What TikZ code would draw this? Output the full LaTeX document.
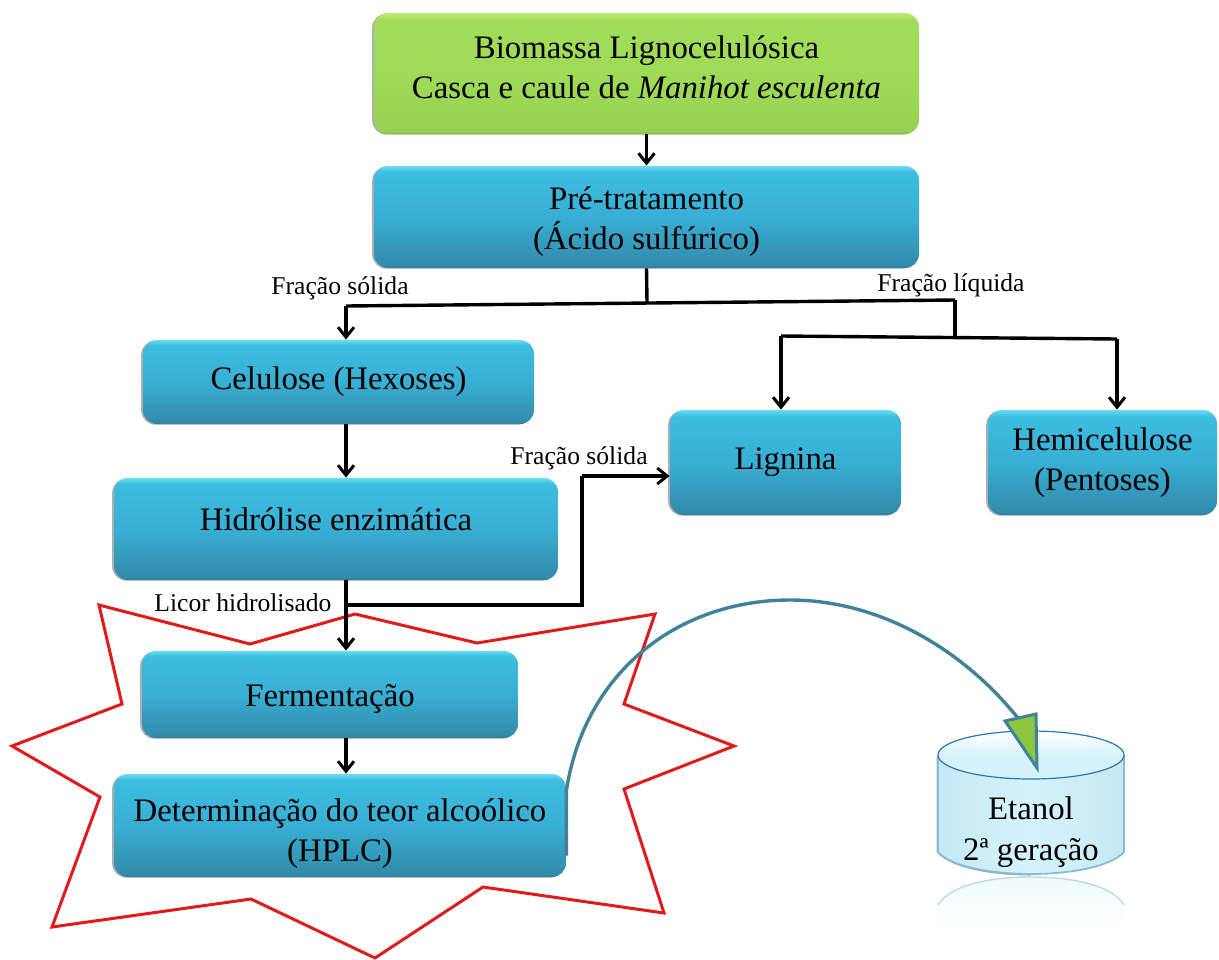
\documentclass[tikz,border=0pt]{standalone}
\usepackage{fontspec}
\setmainfont{Liberation Serif}
\usetikzlibrary{arrows.meta,shadows,calc}
\definecolor{bA}{HTML}{2E7F9B}\definecolor{bB}{HTML}{338BAB}\definecolor{bC}{HTML}{38AFD4}\definecolor{bD}{HTML}{3DBDE1}\definecolor{bE}{HTML}{66DDF5}
\definecolor{gA}{HTML}{88BC4A}\definecolor{gB}{HTML}{98D153}\definecolor{gC}{HTML}{A0DB57}\definecolor{gD}{HTML}{A2DD59}\definecolor{gE}{HTML}{BDEB78}
\definecolor{teal1}{HTML}{3F8299}\definecolor{tipgreen}{HTML}{8CC63F}\definecolor{star}{HTML}{E01B1B}
\definecolor{cylfill}{HTML}{D6F3FB}\definecolor{cylline}{HTML}{2C76B8}\definecolor{cyledge}{HTML}{86BDD6}
\pgfdeclareverticalshading{bluebox}{100bp}{color(0bp)=(bA); color(25bp)=(bA); color(26.5bp)=(bB); color(50bp)=(bC); color(72bp)=(bD); color(75bp)=(bE); color(100bp)=(bE)}
\pgfdeclareverticalshading{greenbox}{100bp}{color(0bp)=(gA); color(25bp)=(gA); color(26.5bp)=(gB); color(50bp)=(gC); color(72bp)=(gD); color(75bp)=(gE); color(100bp)=(gE)}
\newcommand\tdown[1]{\rule{0pt}{\dimexpr 12pt+2\dimexpr #1\relax\relax}}
\newcommand\tup[1]{\rule[\dimexpr -4.5pt-2\dimexpr #1\relax\relax]{0pt}{0pt}}
\tikzset{
  x=0.5pt,y=-0.5pt,
  box/.style={rectangle,rounded corners=7pt,align=center,inner sep=0pt,font=\fontsize{16.4}{20}\selectfont,text=black,
    drop shadow={shadow xshift=-0.9pt,shadow yshift=-0.3pt,opacity=.45,fill=black!70}},
  bluebox/.style={box,shading=bluebox},
  greenbox/.style={box,shading=greenbox},
  lbl/.style={inner sep=0pt,font=\fontsize{12.8}{14}\selectfont,text=black},
  conn/.style={line width=1.7pt,black,line join=miter},
  arr/.style={conn,-{Straight Barb[length=5pt,width=8pt,line width=1.5pt]}},
}
\begin{document}
\begin{tikzpicture}
\useasboundingbox (0,0) rectangle (1219,959);
% star
\draw[star,line width=1.5pt,line join=miter,fill=none]
 (99,605)--(250,644)--(355,614)--(477,643)--(655,614)--(624,704)--(734,746)--(624,789)--(664,913)--(483,887)--(375,958)--(251,899)--(52,927)--(100,797)--(12,746)--(122,704)--cycle;
% boxes
\node[greenbox,minimum width=272.5pt,minimum height=60.5pt] (bio) at (646.5,73.5) {Biomassa Lignocelulósica\\Casca e caule de \textit{Manihot esculenta}\tup{1.2pt}};
\node[bluebox,minimum width=272.5pt,minimum height=51pt] (pre) at (646.5,217) {\tdown{2.2pt}Pré-tratamento\\(Ácido sulfúrico)};
\node[bluebox,minimum width=195.5pt,minimum height=42pt] (cel) at (338.5,382) {Celulose (Hexoses)};
\node[bluebox,minimum width=222pt,minimum height=51pt] (hid) at (336,529) {Hidrólise enzimática\tup{2.5pt}};
\node[bluebox,minimum width=188pt,minimum height=43.5pt] (fer) at (330,694.5) {\tdown{1.5pt}Fermentação};
\node[bluebox,minimum width=226pt,minimum height=51.5pt] (det) at (340,825.5) {\tdown{3.5pt}Determinação do teor alcoólico\\(HPLC)};
\node[bluebox,minimum width=115.5pt,minimum height=52.5pt] (lig) at (785.5,462.5) {Lignina};
\node[bluebox,minimum width=114.5pt,minimum height=52.5pt] (hem) at (1102.5,462.5) {Hemicelulose\\(Pentoses)};
% labels
\node[lbl] (l1) at (340,288) {Fração sólida};
\node[lbl] (l2) at (951,285) {Fração líquida};
\node[lbl] (l3) at (579,458) {Fração sólida};
\node[lbl] (l4) at (243,603) {Licor hidrolisado};
% junctions
\coordinate (ja) at (647,302);
\coordinate (jb) at (346,306);
\coordinate (jc) at (955,300);
\coordinate (jd) at (955,336);
\coordinate (je) at (781,336);
\coordinate (jf) at (1117,339);
\coordinate (jg) at (346,605);
\coordinate (jh) at (582,605);
\coordinate (ji) at (582,476);
% connectors
\draw[arr] (bio.south) -- (pre.north);
\draw[conn] (pre.south) -- (ja);
\draw[conn] (jb) -- (jc);
\draw[arr] (jb) -- (jb |- cel.north);
\draw[conn] (jc) -- (jd);
\draw[conn] (jf) -- (je);
\draw[arr] (je) -- (je |- lig.north);
\draw[arr] (jf) -- (jf |- hem.north);
\draw[arr] (jb |- cel.south) -- (jb |- hid.north);
\draw[arr] (jb |- hid.south) -- (jb |- fer.north);
\draw[conn] (jg) -- (jh) -- (ji);
\draw[arr] (ji) -- (ji -| lig.west);
\draw[arr] (jb |- fer.south) -- (jb |- det.north);
% reflection
\shade[top color=cylfill!40,bottom color=white] (938,905) .. controls (950,885) and (990,877) .. (1031,877) .. controls (1072,877) and (1112,885) .. (1124,905) -- (1124,926) -- (938,926) -- cycle;
\draw[cyledge!55,line width=.7pt] (938,905) .. controls (950,885) and (990,877) .. (1031,877) .. controls (1072,877) and (1112,885) .. (1124,905);
% cylinder
\fill[black!35] (936.5,757) -- (936.5,852) .. controls (950,868) and (990,875.5) .. (1031,875.5) -- (1031,757) -- cycle;
\path[left color=cylfill!80!cyledge,right color=cylfill!80!cyledge,middle color=cylfill] (938,755) -- (938,852) .. controls (950,866) and (990,874) .. (1031,874) .. controls (1072,874) and (1112,866) .. (1124,852) -- (1124,755) -- cycle;
\draw[cyledge,line width=.9pt] (938,755) -- (938,852) .. controls (950,866) and (990,874) .. (1031,874) .. controls (1072,874) and (1112,866) .. (1124,852) -- (1124,755);
\shade[top color=white,bottom color=cylfill,middle color=cylfill] (1031,755) ellipse [x radius=93,y radius=24];
\draw[cylline,line width=.6pt] (1031,755) ellipse [x radius=93,y radius=24];
\node[inner sep=0pt,align=center,font=\fontsize{16.4}{20.5}\selectfont,text=black] (eta) at (1031,832) {Etanol\\2ª geração};
% curved connector
\coordinate (tip) at (1021,722);
\draw[teal1,line width=1.7pt] ($(det.east)+(0,30)$) -- ++(0,-65) .. controls (585,670) and (680,600) .. (790,600) .. controls (880,600) and (965,650) .. (tip);
\draw[teal1,line width=1.5pt,line join=miter,fill=tipgreen] (1005,721) -- (1036,714) -- (1037,768) -- cycle;
\end{tikzpicture}
\end{document}
